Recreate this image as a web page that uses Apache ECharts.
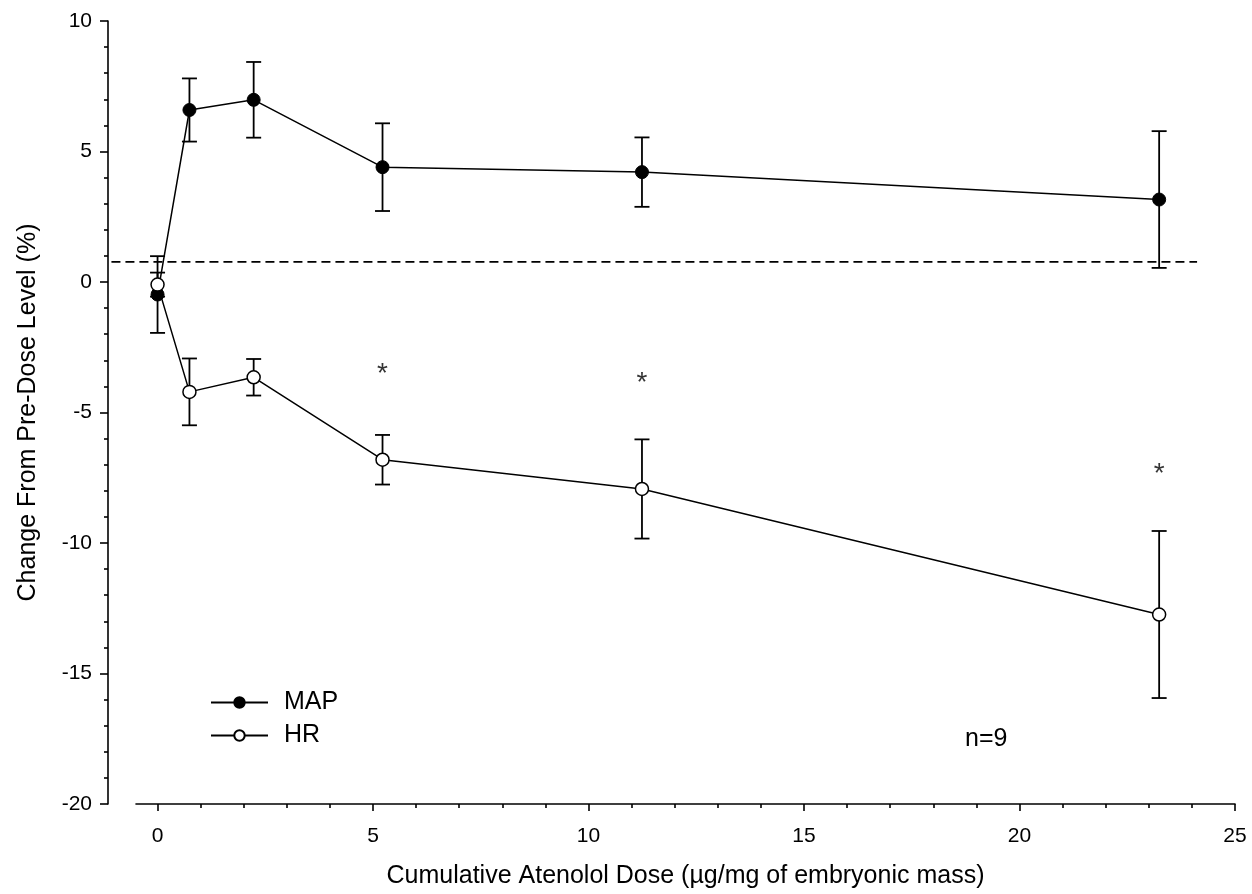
<!DOCTYPE html>
<html>
<head>
<meta charset="utf-8">
<script src="https://cdn.jsdelivr.net/npm/echarts@6/dist/echarts.min.js"></script>
<style>
  html, body { margin: 0; padding: 0; background: #fff; }
  #chart { width: 1252px; height: 894px; }
</style>
</head>
<body>
<div id="chart"></div>
<script>
// Cumulative atenolol dose (µg/mg of embryonic mass)
const doses = [0, 0.74, 2.23, 5.22, 11.24, 23.24];

// Mean arterial pressure: mean change (%) and error
const mapMean = [-0.48, 6.59, 6.98, 4.40, 4.21, 3.16];
const mapErr  = [1.47, 1.21, 1.45, 1.68, 1.33, 2.62];

// Heart rate: mean change (%) and error
const hrMean = [-0.1, -4.21, -3.65, -6.81, -7.93, -12.74];
const hrErr  = [0.46, 1.28, 0.70, 0.95, 1.90, 3.20];

// Significance marks above the HR points
const starX = [5.22, 11.24, 23.24];
const starY = [-3.52, -3.89, -7.36];

// Dashed reference level and its horizontal extent
const refLevel = 0.77;
const refSpan = [-1.07, 24.12];

// Axis ticks
const xMajorTicks = [0, 5, 10, 15, 20, 25];
const xMinorTicks = [];
for (let v = 1; v < 25; v++) if (v % 5 !== 0) xMinorTicks.push(v);

const FONT = 'Liberation Sans, Arial, sans-serif';

function pairs(xs, ys) { return xs.map((x, i) => [x, ys[i]]); }
function errData(xs, m, e) { return xs.map((x, i) => [x, m[i] - e[i], m[i] + e[i]]); }

// Vertical error bar with caps
function errRender(params, api) {
  const x = api.value(0);
  const lo = api.coord([x, api.value(1)]);
  const hi = api.coord([x, api.value(2)]);
  const w = 7.5;
  const style = { stroke: '#000', lineWidth: 1.8, fill: null };
  return {
    type: 'group',
    children: [
      { type: 'line', shape: { x1: lo[0], y1: lo[1], x2: hi[0], y2: hi[1] }, style },
      { type: 'line', shape: { x1: lo[0] - w, y1: lo[1], x2: lo[0] + w, y2: lo[1] }, style },
      { type: 'line', shape: { x1: hi[0] - w, y1: hi[1], x2: hi[0] + w, y2: hi[1] }, style }
    ]
  };
}

// Horizontal dashed reference line
function refRender(params, api) {
  const a = api.coord([api.value(0), api.value(2)]);
  const b = api.coord([api.value(1), api.value(2)]);
  return {
    type: 'line',
    shape: { x1: a[0], y1: a[1], x2: b[0], y2: b[1] },
    style: { stroke: '#000', lineWidth: 1.8, lineDash: [9, 5], fill: null }
  };
}

const chart = echarts.init(document.getElementById('chart'), null, { renderer: 'canvas' });

chart.setOption({
  animation: false,
  backgroundColor: '#fff',
  textStyle: { fontFamily: FONT, color: '#000' },
  grid: { left: 136, right: 17, top: 21, bottom: 88, containLabel: false },
  xAxis: [
    {
      type: 'value', min: -0.5, max: 25,
      name: 'Cumulative Atenolol Dose (µg/mg of embryonic mass)',
      nameLocation: 'middle', nameGap: 60,
      nameTextStyle: { fontSize: 25, color: '#000', fontFamily: FONT },
      axisLine: { show: true, onZero: false, lineStyle: { color: '#000', width: 1.6 } },
      axisTick: { show: true, inside: false, length: 7, customValues: xMajorTicks, lineStyle: { color: '#000', width: 1.6 } },
      axisLabel: { show: true, customValues: xMajorTicks, margin: 22, fontSize: 21, color: '#000', fontFamily: FONT },
      splitLine: { show: false }
    },
    {
      type: 'value', min: -0.5, max: 25, position: 'bottom',
      axisLine: { show: false, onZero: false },
      axisTick: { show: true, length: 4, customValues: xMinorTicks, lineStyle: { color: '#000', width: 1.6 } },
      axisLabel: { show: false },
      splitLine: { show: false }
    }
  ],
  yAxis: {
    type: 'value', min: -20, max: 10, interval: 5, offset: 28,
    name: 'Change From Pre-Dose Level (%)',
    nameLocation: 'middle', nameGap: 67, nameRotate: 90,
    nameTextStyle: { fontSize: 25, color: '#000', fontFamily: FONT },
    axisLine: { show: true, onZero: false, lineStyle: { color: '#000', width: 1.6 } },
    axisTick: { show: true, length: 8, lineStyle: { color: '#000', width: 1.6 } },
    minorTick: { show: true, splitNumber: 5, length: 4, lineStyle: { color: '#000', width: 1.6 } },
    axisLabel: { margin: 16, fontSize: 21, color: '#000', fontFamily: FONT },
    splitLine: { show: false }
  },
  legend: {
    orient: 'vertical', left: 205, top: 685,
    itemWidth: 57, itemHeight: 13, itemGap: 8,
    data: ['MAP', 'HR'],
    textStyle: { fontSize: 25, color: '#000', fontFamily: FONT, padding: [0, 0, 0, 11] }
  },
  graphic: [
    { type: 'text', left: 965, top: 727, style: { text: 'n=9', fontSize: 25, fill: '#000', fontFamily: FONT } }
  ],
  series: [
    {
      name: 'ref', type: 'custom', renderItem: refRender,
      data: [[refSpan[0], refSpan[1], refLevel]], clip: false, silent: true, z: 1
    },
    {
      name: 'MAP err', type: 'custom', renderItem: errRender,
      data: errData(doses, mapMean, mapErr), z: 2, clip: false
    },
    {
      name: 'MAP', type: 'line', data: pairs(doses, mapMean),
      symbol: 'circle', symbolSize: 13,
      lineStyle: { color: '#000', width: 1.5 },
      itemStyle: { color: '#000', borderColor: '#000', borderWidth: 1 }, z: 3
    },
    {
      name: 'HR err', type: 'custom', renderItem: errRender,
      data: errData(doses, hrMean, hrErr), z: 4, clip: false
    },
    {
      name: 'HR', type: 'line', data: pairs(doses, hrMean),
      symbol: 'circle', symbolSize: 13,
      lineStyle: { color: '#000', width: 1.5 },
      itemStyle: { color: '#fff', borderColor: '#000', borderWidth: 1.5 }, z: 5
    },
    {
      name: 'stars', type: 'scatter', data: pairs(starX, starY),
      symbolSize: 1, itemStyle: { color: 'rgba(0,0,0,0)' }, silent: true,
      label: { show: true, position: 'inside', formatter: '*', fontSize: 28, color: '#000', fontFamily: FONT }, z: 6
    }
  ]
});
</script>
</body>
</html>
